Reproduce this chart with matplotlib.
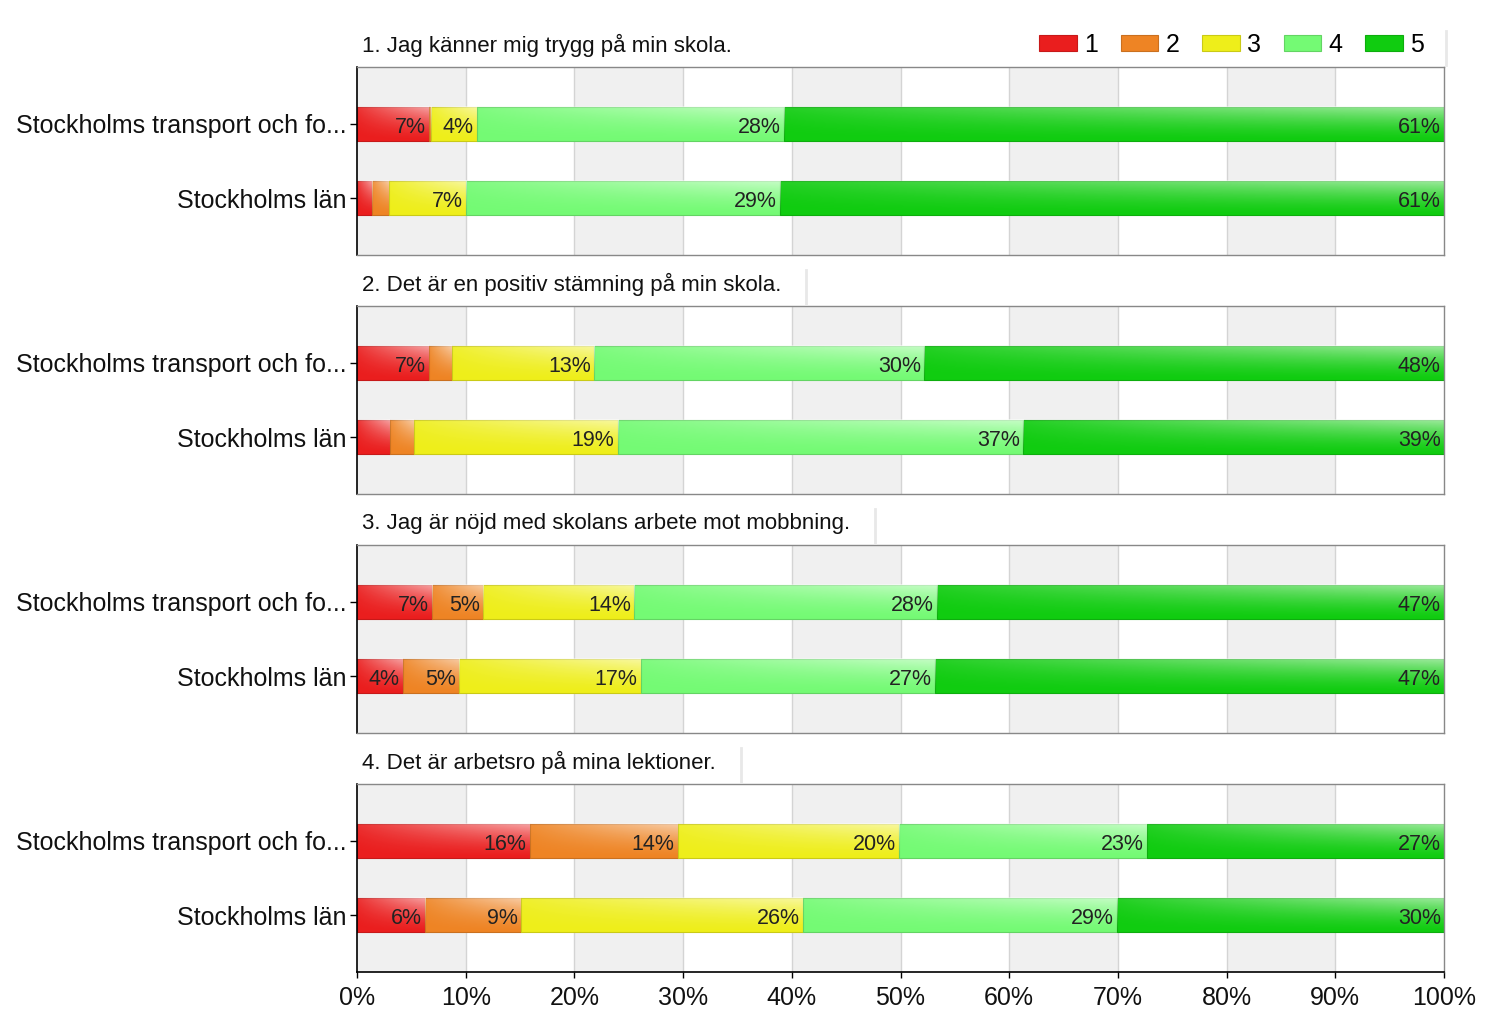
import numpy as np
import matplotlib
matplotlib.use("Agg")
import matplotlib.pyplot as plt
from matplotlib.patches import Patch
from matplotlib.colors import to_rgb

plt.rcParams['font.family'] = ['Liberation Sans', 'DejaVu Sans']

# ---------------- data ----------------
questions = [
    "1. Jag känner mig trygg på min skola.",
    "2. Det är en positiv stämning på min skola.",
    "3. Jag är nöjd med skolans arbete mot mobbning.",
    "4. Det är arbetsro på mina lektioner.",
]
groups = ["Stockholms transport och fo...", "Stockholms län"]
levels = ["1", "2", "3", "4", "5"]

# shares (%) per question -> per group -> levels 1..5
q1_school = [6.6, 0.2, 4.2, 28.3, 60.7]
q1_county = [1.4, 1.5, 7.1, 28.9, 61.1]
q2_school = [6.6, 2.1, 13.1, 30.4, 47.8]
q2_county = [3.0, 2.2, 18.8, 37.3, 38.7]
q3_school = [6.9, 4.7, 13.9, 27.9, 46.6]
q3_county = [4.2, 5.2, 16.7, 27.1, 46.8]
q4_school = [15.9, 13.6, 20.4, 22.8, 27.3]
q4_county = [6.3, 8.8, 25.9, 28.9, 30.1]

data = [
    [q1_school, q1_county],
    [q2_school, q2_county],
    [q3_school, q3_county],
    [q4_school, q4_county],
]

colors = ["#ea1e1e", "#ee8424", "#eeee1a", "#74fa74", "#10cc10"]
x_ticks = list(range(0, 101, 10))
x_ticklabels = [f"{t}%" for t in x_ticks]
label_min = 3.5

# ---------------- layout ----------------
W, H = 1500, 1025
fig = plt.figure(figsize=(W / 100, H / 100), dpi=100)
fig.patch.set_facecolor("white")

left_px, right_px = 357, 1444
tops = [67, 306, 545, 784]
ax_h = 188
bar_h = 0.47
FS_TICK = 18
FS_TITLE = 16
FS_BAR = 15.5


def darker(c, f=0.85):
    r, g, b = to_rgb(c)
    return (r * f, g * f, b * f)


def gloss(nx=60, ny=30):
    xf = np.linspace(0, 1, nx)[None, :]
    yf = np.linspace(0, 1, ny)[:, None]  # 0 at top
    alpha = 0.50 * xf ** 0.9 * (1 - yf) ** 1.4 + 0.10 * (1 - yf) ** 2
    img = np.ones((ny, nx, 4))
    img[..., 3] = np.clip(alpha, 0, 1)
    return img


GLOSS = gloss()

axes = []
for qi, (q, qdata) in enumerate(zip(questions, data)):
    top = tops[qi]
    ax = fig.add_axes([left_px / W, 1 - (top + ax_h) / H,
                       (right_px - left_px) / W, ax_h / H])
    axes.append(ax)
    # stripes and grid
    for k in range(0, 100, 20):
        ax.axvspan(k, k + 10, color="#f0f0f0", zorder=0, lw=0)
    for k in range(10, 100, 10):
        ax.axvline(k, color="#d4d4d4", lw=1, zorder=0.5)

    for gi, vals in enumerate(qdata):
        lefts = np.concatenate([[0], np.cumsum(vals)[:-1]])
        ax.barh([gi] * len(vals), vals, left=lefts, height=bar_h,
                color=colors, edgecolor=[darker(c) for c in colors],
                linewidth=0.8, zorder=2)
        for v, l, c in zip(vals, lefts, colors):
            ax.imshow(GLOSS, extent=(l, l + v, gi + bar_h / 2, gi - bar_h / 2),
                      aspect="auto", zorder=2.5, interpolation="bilinear")
            if v >= label_min:
                ax.text(l + v - 0.3, gi + 0.05, f"{round(v):.0f}%",
                        ha="right", va="center", fontsize=FS_BAR,
                        color="#222222", zorder=3)

    ax.set_xlim(0, 100)
    ax.set_ylim(1.77, -0.77)
    ax.set_yticks(range(len(groups)))
    ax.set_yticklabels(groups, fontsize=FS_TICK, color="#111111")
    ax.tick_params(axis="y", length=5, width=1, pad=2.5, color="black")
    ax.set_xticks(x_ticks)
    for s in ["top", "right", "bottom"]:
        ax.spines[s].set_color("#888888")
        ax.spines[s].set_linewidth(1)
    ax.spines["left"].set_color("black")
    ax.spines["left"].set_linewidth(1.2)
    if qi < 3:
        ax.tick_params(axis="x", length=0, labelbottom=False)
    else:
        ax.spines["bottom"].set_color("black")
        ax.spines["bottom"].set_linewidth(1.2)
        ax.set_xticklabels(x_ticklabels, fontsize=FS_TICK, color="#111111")
        ax.tick_params(axis="x", length=4, width=1, pad=6, color="black")

    t = fig.text(362 / W, 1 - (top - 22) / H, q, ha="left", va="center",
                 fontsize=FS_TITLE, color="#111111")
    fig.canvas.draw()
    bb = t.get_window_extent()
    if qi == 0:
        xline = right_px + 2
    else:
        xline = bb.x1 + 25
    fig.add_artist(plt.Line2D([xline / W, xline / W],
                              [1 - (top - 36) / H, 1 - (top - 2) / H],
                              color="#e8e8e8", lw=2, transform=fig.transFigure))

handles = [Patch(facecolor=c, edgecolor=darker(c), linewidth=0.8) for c in colors]
fig.legend(handles, levels, loc="center right",
           bbox_to_anchor=((right_px - 20) / W, 1 - 45 / H), ncol=5,
           frameon=False, fontsize=FS_TICK, handlelength=1.5,
           handleheight=0.62, handletextpad=0.3, columnspacing=0.9,
           borderaxespad=0, borderpad=0)

fig.savefig("out.png", dpi=100, facecolor="white")
